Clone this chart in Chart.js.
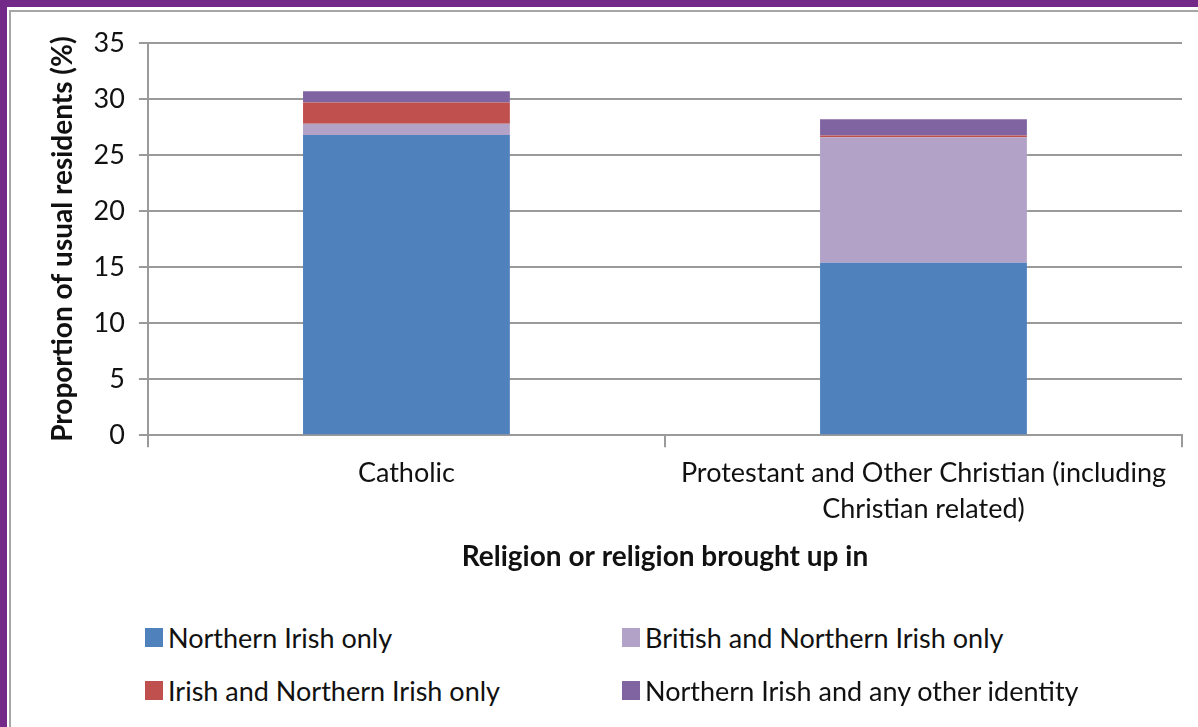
<!DOCTYPE html>
<html>
<head>
<meta charset="utf-8">
<script src="https://cdn.jsdelivr.net/npm/chart.js@4"></script>
<style>
    body { margin: 0; background: #fff; }
    #marco { position: absolute; left: 0; top: 0; width: 1198px; height: 727px; overflow: hidden; }
    #bordeMorado { position: absolute; left: 0; top: 0; width: 1198px; height: 727px; border-left: 7px solid #722987; border-top: 7px solid #722987; box-sizing: border-box; z-index: 3; }
    #bordeGris { position: absolute; left: 9px; top: 10px; width: 1189px; height: 717px; border-left: 2px solid #a6a6a6; border-top: 2px solid #a6a6a6; box-sizing: border-box; z-index: 3; }
    #graficoBarras { position: absolute; left: 0; top: 0; }
    .leyenda { position: absolute; font-family: Lato, sans-serif; font-size: 27px; color: #111; display: flex; align-items: center; white-space: nowrap; }
    .leyenda span.caja { display: inline-block; width: 18px; height: 19px; margin-right: 5px; }
</style>
</head>
<body>
<div id="marco">
    <canvas id="graficoBarras" width="1198" height="600"></canvas>
    <div id="leyenda"></div>
    <div id="bordeMorado"></div>
    <div id="bordeGris"></div>
</div>
<script>
const categorias = ['Catholic', ['Protestant and Other Christian (including', 'Christian related)']];
const soloNorIrlandes = [26.8, 15.4];
const britanicoYNorIrlandes = [1.0, 11.2];
const irlandesYNorIrlandes = [1.9, 0.15];
const norIrlandesYOtra = [1.0, 1.45];
const ticksY = [0, 5, 10, 15, 20, 25, 30, 35];

const nombresSeries = ['Northern Irish only', 'British and Northern Irish only', 'Irish and Northern Irish only', 'Northern Irish and any other identity'];
const coloresSeries = ['#4f81bd', '#b2a2c7', '#c0504d', '#8064a2'];
const valoresSeries = [soloNorIrlandes, britanicoYNorIrlandes, irlandesYNorIrlandes, norIrlandesYOtra];

const fuente = 'Lato, sans-serif';
const gris = '#9a9a9a';

const datasets = valoresSeries.map((valores, i) => ({
    label: nombresSeries[i],
    data: valores,
    backgroundColor: coloresSeries[i],
    borderWidth: 0,
    categoryPercentage: 1,
    barPercentage: 0.4
}));

const ctx = document.getElementById('graficoBarras').getContext('2d');
const miGrafico = new Chart(ctx, {
    type: 'bar',
    data: { labels: categorias, datasets: datasets },
    options: {
        responsive: false,
        animation: false,
        layout: { padding: { left: 46, top: 43, right: 16, bottom: 22 } },
        plugins: {
            legend: { display: false },
            tooltip: { enabled: false }
        },
        scales: {
            x: {
                stacked: true,
                grid: { offset: true, drawOnChartArea: false, drawTicks: true, tickLength: 12, color: gris, lineWidth: 2 },
                border: { color: gris, width: 2 },
                ticks: { color: '#111', padding: 9, maxRotation: 0, autoSkip: false, font: { family: fuente, size: 27, lineHeight: 1.3 } },
                title: { display: true, text: 'Religion or religion brought up in', color: '#111', padding: { top: 5, bottom: 4 }, font: { family: fuente, size: 28, weight: 'bold', lineHeight: 1.2 } }
            },
            y: {
                stacked: true,
                min: 0,
                max: 35,
                afterBuildTicks: function(eje) {
                    eje.ticks = ticksY.map(v => ({ value: v }));
                },
                grid: { tickLength: 9, color: gris, lineWidth: 2 },
                border: { color: gris, width: 2 },
                ticks: { color: '#111', padding: 14, font: { family: fuente, size: 27 } },
                title: { display: true, text: 'Proportion of usual residents (%)', color: '#111', padding: { top: 0, bottom: 0 }, font: { family: fuente, size: 28, weight: 'bold', lineHeight: 1.2 } }
            }
        }
    }
});

// leyenda en dos columnas como la original
const posiciones = [[145, 621], [622, 621], [145, 674], [622, 674]];
const leyenda = document.getElementById('leyenda');
nombresSeries.forEach((nombre, i) => {
    const item = document.createElement('div');
    item.className = 'leyenda';
    item.style.left = posiciones[i][0] + 'px';
    item.style.top = posiciones[i][1] + 'px';
    item.innerHTML = '<span class="caja" style="background:' + coloresSeries[i] + '"></span>' + nombre;
    leyenda.appendChild(item);
});
</script>
</body>
</html>
